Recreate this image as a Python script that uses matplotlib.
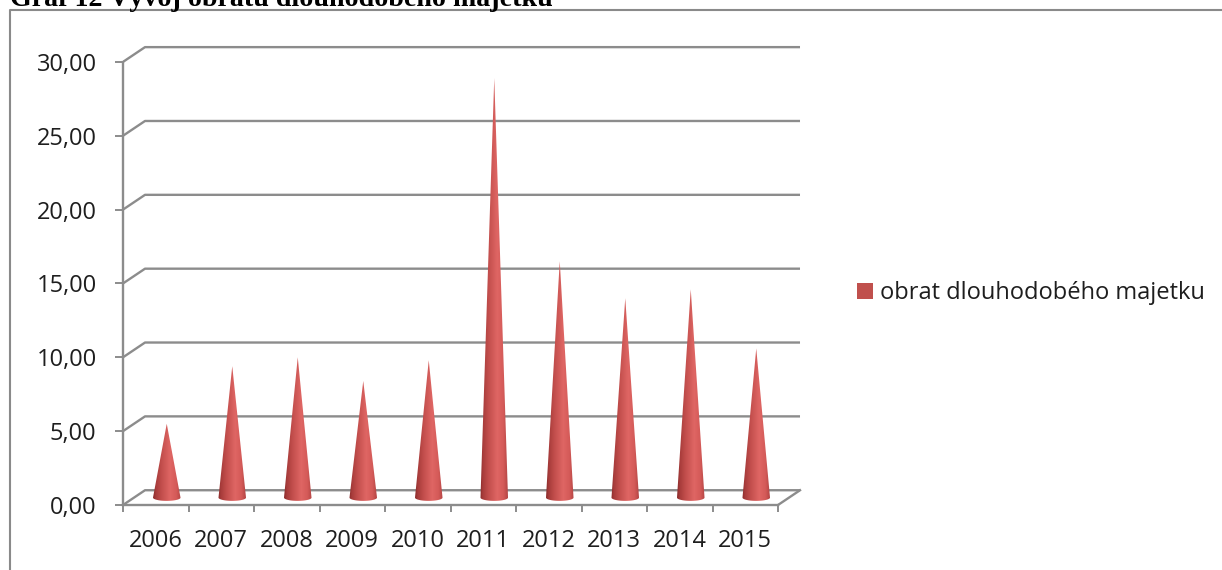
import matplotlib; matplotlib.use("Agg")
import matplotlib.pyplot as plt
import numpy as np
from matplotlib.patches import Polygon, Patch
from matplotlib.lines import Line2D
from matplotlib.colors import LinearSegmentedColormap

years=["2006","2007","2008","2009","2010","2011","2012","2013","2014","2015"]
values=[5.0,8.9,9.5,7.9,9.3,28.4,16.0,13.5,14.1,10.1]
yticks=[0,5,10,15,20,25,30]
series="obrat dlouhodobého majetku"
title="Graf 12 Vývoj obratu dlouhodobého majetku"

W,H=1222,570
FONT="Open Sans"; GRID="#8c8c8c"; TXT="#1e1e1e"; FS=17
# oblique depth of the 3D floor/walls, in data units
DX,DY=0.336,1.0
R,EY=0.21,0.22   # cone base radius (x units) and ellipse half height (y units)

fig=plt.figure(figsize=(W/100,H/100),dpi=100)
# axes placed so x=0 / y=0 land on the front-left corner of the floor
x0,y0,sx,sy=123,65,65.5,14.77
xl=(0,10.5); yl=(-1,32)
ax=fig.add_axes([(x0+xl[0]*sx)/W,(y0+yl[0]*sy)/H,(xl[1]-xl[0])*sx/W,(yl[1]-yl[0])*sy/H])
ax.patch.set_alpha(0)

# back wall gridlines with their diagonal return to the front axis
for v in yticks:
    ax.plot([0,DX,len(years)+DX],[v,v+DY,v+DY],color=GRID,lw=1.7,zorder=1,solid_capstyle="butt")
ax.plot([len(years),len(years)+DX],[0,DY],color=GRID,lw=1.7,zorder=1)

# cones with horizontal shading
cmap=LinearSegmentedColormap.from_list("cone",[(0,"#8a2c2c"),(0.1,"#a83c3b"),(0.3,"#c24e4c"),
    (0.62,"#df6664"),(0.85,"#d45a58"),(1,"#b34544")])
grad=cmap(np.linspace(0,1,64))[None,:,:]
th=np.linspace(0,np.pi,40)
for i,v in enumerate(values):
    cx=i+0.5+DX/2; cy=DY/2
    top=cy+v
    pts=[(cx,top),(cx+R,cy)]+[(cx+R*np.cos(t),cy-EY*np.sin(t)) for t in th]+[(cx-R,cy)]
    poly=Polygon(pts,closed=True,transform=ax.transData,fc="none",ec="none")
    ax.add_patch(poly)
    im=ax.imshow(grad,extent=[cx-R,cx+R,cy-EY,top],aspect="auto",zorder=3,interpolation="bilinear")
    im.set_clip_path(poly)

ax.set_xlim(*xl); ax.set_ylim(*yl)
for s in ["top","right"]: ax.spines[s].set_visible(False)
ax.spines["left"].set_bounds(0,30); ax.spines["left"].set_color(GRID); ax.spines["left"].set_linewidth(1.7)
ax.spines["bottom"].set_position(("data",0)); ax.spines["bottom"].set_bounds(0,len(years))
ax.spines["bottom"].set_color(GRID); ax.spines["bottom"].set_linewidth(1.7)

ax.set_yticks(yticks); ax.set_yticklabels([f"{v:.2f}".replace(".",",") for v in yticks])
ax.tick_params(axis="y",direction="out",length=6,width=1.4,color=GRID,pad=13,labelsize=FS,labelcolor=TXT)
ax.set_xticks(range(len(years)+1)); ax.set_xticklabels([])
ax.set_xticks(np.arange(len(years))+0.5,minor=True); ax.set_xticklabels(years,minor=True)
ax.tick_params(axis="x",which="major",direction="out",length=5,width=1.4,color=GRID)
ax.tick_params(axis="x",which="minor",length=0,pad=17,labelsize=FS,labelcolor=TXT)
for t in ax.get_xticklabels(minor=True)+ax.get_yticklabels(): t.set_fontfamily(FONT)

leg=fig.legend(handles=[Patch(fc="#c0504d",ec="none")],labels=[series],loc="center left",
    bbox_to_anchor=(836/W,1-293/H),frameon=False,handlelength=0.65,handleheight=0.65,handletextpad=0.3,
    prop={"family":FONT,"size":FS})
for t in leg.get_texts(): t.set_color(TXT)

# chart area border (only top and left edges fall inside the image)
fig.add_artist(Line2D([9.5/W,9.5/W,1],[0,1-9.5/H,1-9.5/H],transform=fig.transFigure,color="#8a8a8a",lw=1.5))
fig.text(10/W,1-6/H,title,va="baseline",ha="left",fontfamily="Liberation Serif",fontweight="bold",fontsize=20.2)

fig.savefig("out.png",dpi=100)
